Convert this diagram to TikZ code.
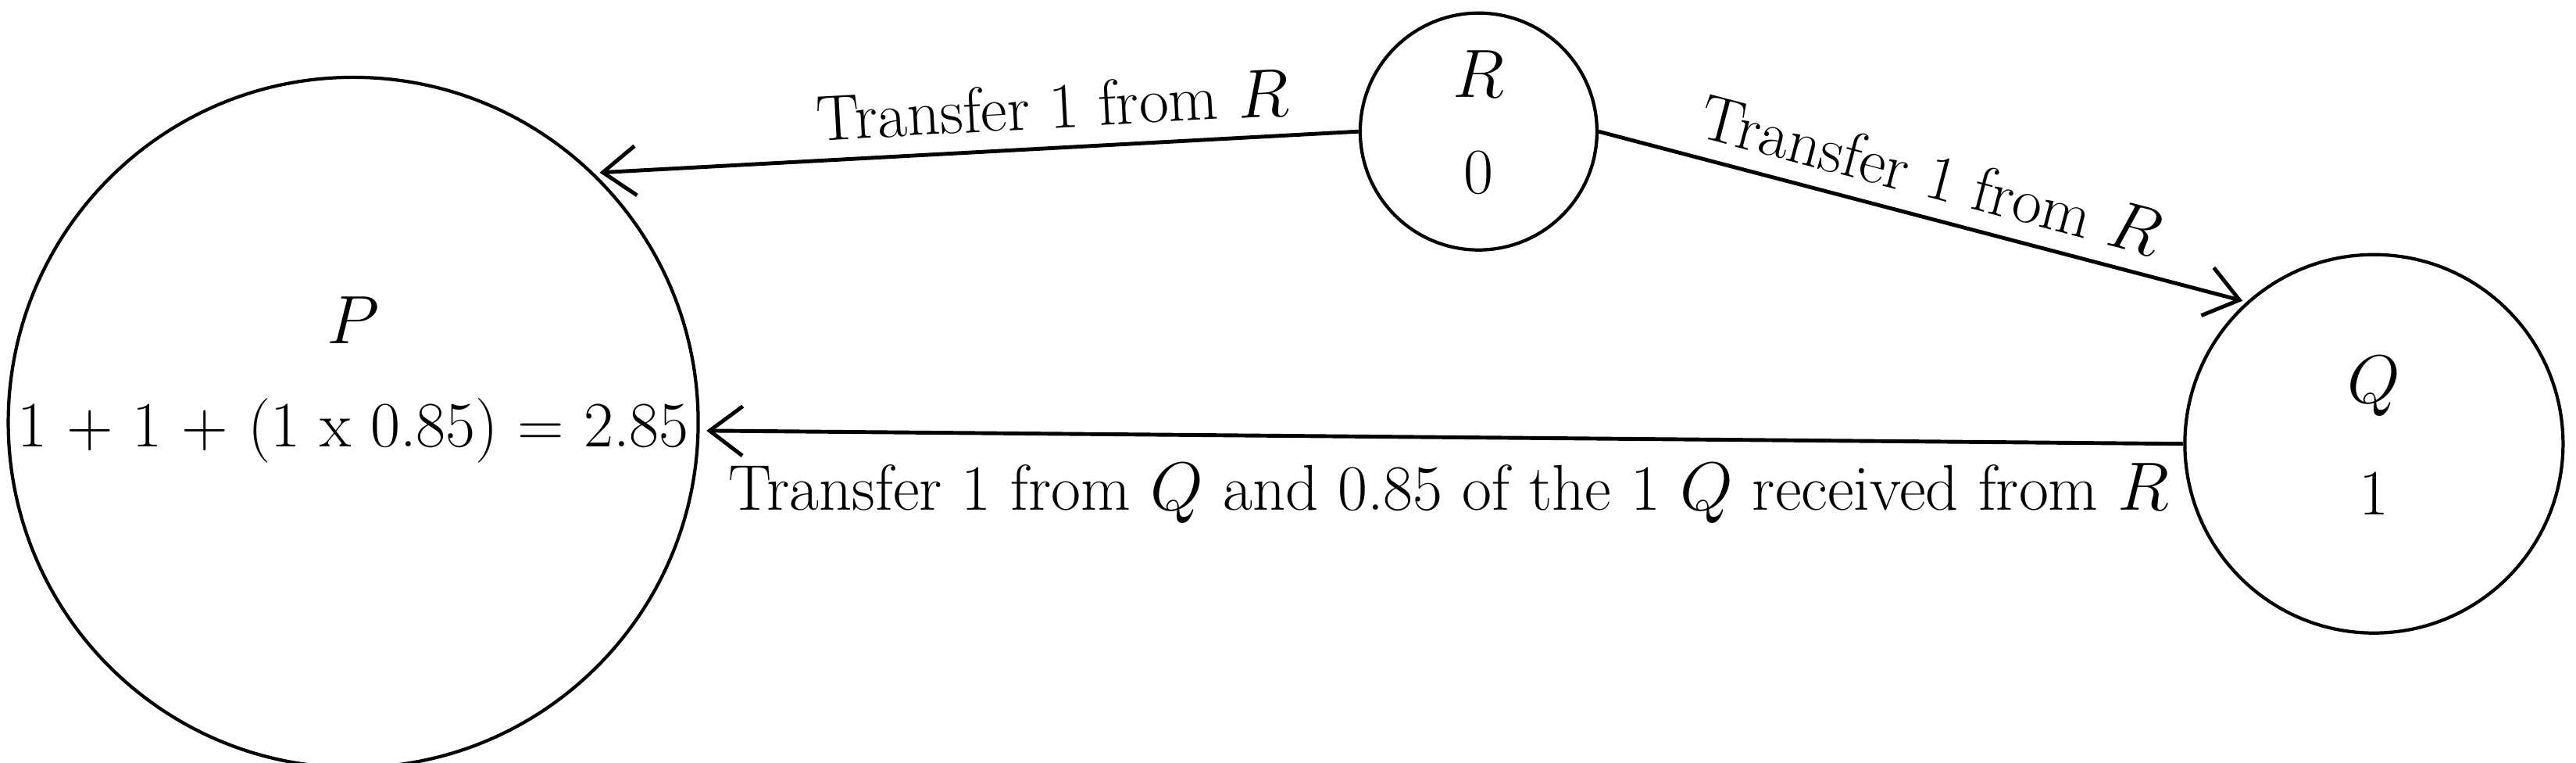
\documentclass[tikz,border=0pt]{standalone}
\usetikzlibrary{arrows.meta}
\begin{document}
\begin{tikzpicture}[x=0.02103cm,y=-0.02103cm,
  circ/.style={draw,circle,line width=1.2pt,inner sep=0pt},
  lbl/.style={font=\fontsize{23.5}{28}\selectfont},
  arr/.style={line width=1.4pt,-{Straight Barb[length=12pt,width=18pt]}}]
\useasboundingbox (0,0) rectangle (1568,464);
\node[circ,minimum size=8.83cm] (P) at (215,257) {};
\node[circ,minimum size=3.03cm] (R) at (900,80) {};
\node[circ,minimum size=4.84cm] (Q) at (1445,270) {};
\node[lbl] (pt) at (215,195) {$P$};
\node[lbl] (pv) at (215,262) {1 + 1 + (1 x 0.85) = 2.85};
\node[lbl] (rt) at (900,45) {$R$};
\node[lbl] (rv) at (900,105) {0};
\node[lbl] (qt) at (1445,235) {$Q$};
\node[lbl] (qv) at (1445,300) {1};
\coordinate (a1) at (365,105);
\coordinate (a2) at (1365,183);
\coordinate (a3) at (430,262);
\draw[arr] (R.west) -- (a1) node[lbl,pos=0.4,above=3pt,sloped] (l1) {Transfer 1 from $R$};
\draw[arr] (R.east) -- (a2) node[lbl,pos=0.5,above=3pt,sloped] (l2) {Transfer 1 from $R$};
\draw[arr] (Q.west) -- (a3);
\node[lbl] (l3) at (882,300) {Transfer 1 from $Q$ and 0.85 of the 1 $Q$ received from $R$};
\end{tikzpicture}
\end{document}
